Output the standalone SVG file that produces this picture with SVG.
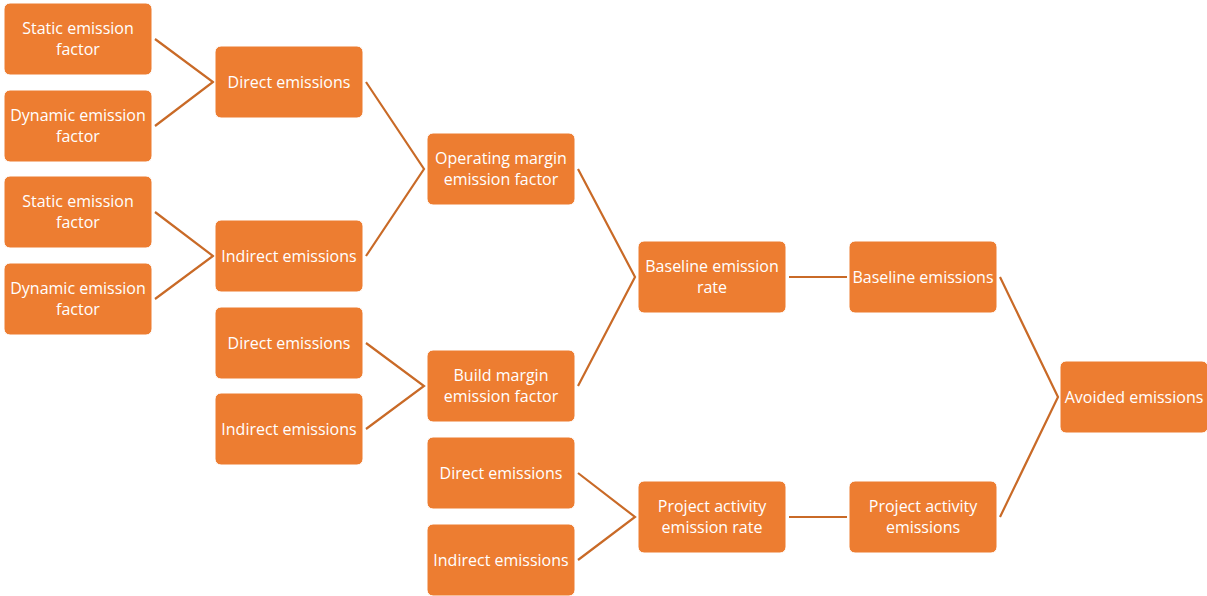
<svg xmlns="http://www.w3.org/2000/svg" width="1207" height="596" viewBox="0 0 1207 596">
  <style>
    .box { fill: #ED7D31; stroke: #FFFFFF; stroke-width: 1; }
    .lbl { fill: #FFFFFF; font-family: "Open Sans", "Noto Sans", sans-serif; font-size: 16px; text-anchor: middle; }
    .conn { stroke: #C96A27; stroke-width: 2.2; fill: none; stroke-linejoin: miter; }
  </style>
  <rect width="1207" height="596" fill="#FFFFFF"/>

  <!-- connectors -->
  <g id="connectors" class="conn">
    <polyline points="155,39 213,82 155,126"/>
    <polyline points="155,212 213,256 155,299"/>
    <polyline points="366,82 424,169 366,256"/>
    <polyline points="366,343 424,386 366,429"/>
    <polyline points="578,169 635,277 578,386"/>
    <polyline points="578,473 635,517 578,560"/>
    <line x1="789" y1="277" x2="847" y2="277"/>
    <line x1="789" y1="517" x2="847" y2="517"/>
    <polyline points="1000,277 1058,397 1000,517"/>
  </g>

  <!-- column 1 -->
  <g id="static-ef-1"><rect class="box" x="4" y="3" width="148" height="72" rx="6"/>
    <text class="lbl" x="78" y="34">Static emission</text><text class="lbl" x="78" y="55">factor</text></g>
  <g id="dynamic-ef-1"><rect class="box" x="4" y="90" width="148" height="72" rx="6"/>
    <text class="lbl" x="78" y="121">Dynamic emission</text><text class="lbl" x="78" y="142">factor</text></g>
  <g id="static-ef-2"><rect class="box" x="4" y="176" width="148" height="72" rx="6"/>
    <text class="lbl" x="78" y="207">Static emission</text><text class="lbl" x="78" y="228">factor</text></g>
  <g id="dynamic-ef-2"><rect class="box" x="4" y="263" width="148" height="72" rx="6"/>
    <text class="lbl" x="78" y="294">Dynamic emission</text><text class="lbl" x="78" y="315">factor</text></g>

  <!-- column 2 -->
  <g id="direct-om"><rect class="box" x="215" y="46" width="148" height="72" rx="6"/>
    <text class="lbl" x="289" y="88">Direct emissions</text></g>
  <g id="indirect-om"><rect class="box" x="215" y="220" width="148" height="72" rx="6"/>
    <text class="lbl" x="289" y="262">Indirect emissions</text></g>
  <g id="direct-bm"><rect class="box" x="215" y="307" width="148" height="72" rx="6"/>
    <text class="lbl" x="289" y="349">Direct emissions</text></g>
  <g id="indirect-bm"><rect class="box" x="215" y="393" width="148" height="72" rx="6"/>
    <text class="lbl" x="289" y="435">Indirect emissions</text></g>

  <!-- column 3 -->
  <g id="operating-margin"><rect class="box" x="427" y="133" width="148" height="72" rx="6"/>
    <text class="lbl" x="501" y="164">Operating margin</text><text class="lbl" x="501" y="185">emission factor</text></g>
  <g id="build-margin"><rect class="box" x="427" y="350" width="148" height="72" rx="6"/>
    <text class="lbl" x="501" y="381">Build margin</text><text class="lbl" x="501" y="402">emission factor</text></g>
  <g id="direct-pa"><rect class="box" x="427" y="437" width="148" height="72" rx="6"/>
    <text class="lbl" x="501" y="479">Direct emissions</text></g>
  <g id="indirect-pa"><rect class="box" x="427" y="524" width="148" height="72" rx="6"/>
    <text class="lbl" x="501" y="566">Indirect emissions</text></g>

  <!-- column 4 -->
  <g id="baseline-rate"><rect class="box" x="638" y="241" width="148" height="72" rx="6"/>
    <text class="lbl" x="712" y="272">Baseline emission</text><text class="lbl" x="712" y="293">rate</text></g>
  <g id="project-rate"><rect class="box" x="638" y="481" width="148" height="72" rx="6"/>
    <text class="lbl" x="712" y="512">Project activity</text><text class="lbl" x="712" y="533">emission rate</text></g>

  <!-- column 5 -->
  <g id="baseline-emissions"><rect class="box" x="849" y="241" width="148" height="72" rx="6"/>
    <text class="lbl" x="923" y="283">Baseline emissions</text></g>
  <g id="project-emissions"><rect class="box" x="849" y="481" width="148" height="72" rx="6"/>
    <text class="lbl" x="923" y="512">Project activity</text><text class="lbl" x="923" y="533">emissions</text></g>

  <!-- column 6 -->
  <g id="avoided-emissions"><rect class="box" x="1060" y="361" width="148" height="72" rx="6"/>
    <text class="lbl" x="1134" y="403">Avoided emissions</text></g>
</svg>
